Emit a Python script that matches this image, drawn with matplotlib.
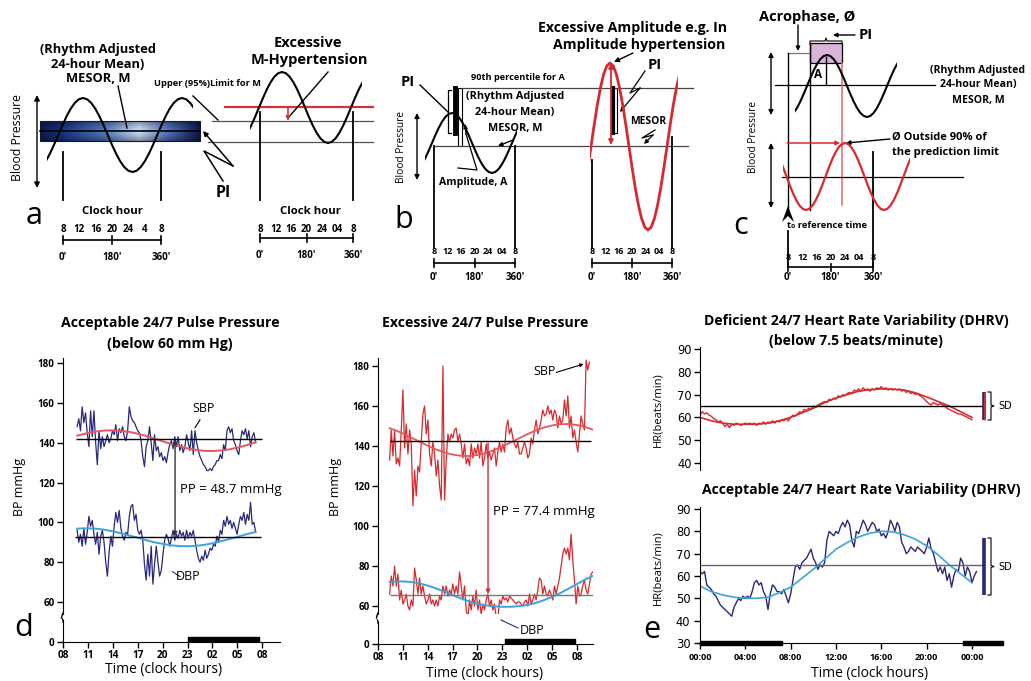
import numpy as np
import matplotlib
matplotlib.use("Agg")
import matplotlib.pyplot as plt
from matplotlib.patches import Rectangle, Polygon

W, H = 1031, 681
plt.rcParams['font.family'] = ['Open Sans', 'DejaVu Sans']

NAVY = '#2a2878'
RED = '#d42a30'
FITRED = '#e5575c'
FITBLUE = '#3ba3dd'

# ---------------- data ----------------
# idealised cosine used in the schematic panels (phase in degrees from the peak)
WAVE_PHASE = list(range(-360, 451, 15))
WAVE_LEVEL = [1, .966, .866, .707, .5, .259, 0, -.259, -.5, -.707, -.866, -.966,
              -1, -.966, -.866, -.707, -.5, -.259, 0, .259, .5, .707, .866, .966,
              1, .966, .866, .707, .5, .259, 0, -.259, -.5, -.707, -.866, -.966,
              -1, -.966, -.866, -.707, -.5, -.259, 0, .259, .5, .707, .866, .966,
              1, .966, .866, .707, .5, .259, 0]
CLOCK_LABELS_A = ["8", "12", "16", "20", "24", "4", "8"]
CLOCK_LABELS = ["8", "12", "16", "20", "24", "04", "8"]
CLOCK_DEG = [0, 60, 120, 180, 240, 300, 360]
DEG_LABELS = ["0'", "180'", "360'"]

# Panel d: acceptable pulse pressure (hours since midnight of day 1)
D_T0, D_T1 = 9.7, 31.2
D_SBP = [148,152,146,158,150,155,145,138,156,143,156,140,129,146,137,143,138,141,144,140,
         142,146,144,149,141,147,145,148,143,141,146,158,153,151,150,148,146,145,141,133,
         128,138,141,148,140,131,144,136,138,133,135,131,133,130,135,139,141,137,143,138,
         143,136,139,135,138,144,140,136,146,134,146,140,136,133,131,129,128,126,126,127,
         126,128,129,131,131,134,132,139,136,146,148,145,147,141,139,136,134,141,146,144,
         147,142,146,138,143,145,140]
D_DBP = [96,90,94,88,97,89,95,103,98,101,94,89,95,84,93,96,90,80,73,85,
         93,88,98,105,100,106,97,93,91,95,94,103,108,109,101,104,96,94,96,91,
         79,71,84,73,88,69,79,88,80,73,76,84,91,94,92,88,92,96,91,94,
         92,96,93,95,91,96,92,95,93,96,91,86,82,80,83,81,86,82,84,87,
         86,89,88,93,90,96,94,101,98,103,99,101,97,100,97,94,99,103,101,105,
         99,104,101,110,99,100,95]
D_FIT_H = [9.7, 10, 11, 12, 13, 14, 15, 16, 17, 18, 19, 20, 21, 22, 23, 24, 25, 26, 27, 28, 29, 30, 31, 31.2]
D_SBP_FIT = [143.5,143.8,144.9,145.6,146.1,146.2,145.9,145.4,144.5,143.4,142.1,140.7,139.4,
             138.2,137.1,136.4,135.9,135.8,136.1,136.6,137.5,138.6,139.9,140.2]
D_DBP_FIT = [96.8,96.9,97.0,96.8,96.3,95.5,94.5,93.4,92.3,91.1,90.0,89.2,88.5,88.1,88.0,
             88.2,88.7,89.5,90.5,91.6,92.7,93.9,95.0,95.1]
D_SBP_MESOR, D_DBP_MESOR = 142, 92.5
D_NIGHT = (23.0, 31.6)

# Panel d2: excessive pulse pressure
D2_SBP_T = (9.4, 33.5)
D2_DBP_T = (9.4, 33.9)
D2_SBP = [133,148,135,148,131,134,130,148,168,139,151,136,148,141,110,128,115,130,127,142,
          156,160,146,153,136,130,142,136,125,133,120,113,180,113,133,146,142,146,144,148,
          149,142,146,141,134,141,131,134,130,141,134,139,136,141,134,142,130,134,141,134,
          137,133,136,139,130,137,142,137,141,137,149,153,146,149,144,141,139,142,136,136,
          139,142,139,134,136,144,141,148,153,146,149,153,158,155,156,160,156,158,153,158,
          156,149,155,151,153,163,155,165,149,155,144,148,142,137,146,155,151,148,183,178,182]
D2_DBP = [66,75,70,80,70,76,63,68,61,63,66,60,58,63,60,79,73,66,74,66,
          70,65,61,63,66,61,63,60,63,60,65,63,70,66,70,65,68,66,71,66,
          70,66,77,70,63,70,58,54,63,58,65,60,68,58,63,56,61,58,63,66,
          60,63,58,61,54,53,63,61,65,63,64,62,65,64,63,62,61,62,62,61,
          60,62,63,60,66,61,63,66,63,68,74,73,66,70,66,65,68,66,63,70,
          66,70,74,80,86,89,86,89,83,96,83,73,61,70,65,66,70,73,68,66,
          71,76,77]
D2_FIT_H = [9.4, 10, 11, 12, 13, 14, 15, 16, 17, 18, 19, 20, 21, 22, 23, 24, 25, 26, 27, 28,
            29, 30, 31, 32, 33, 33.9]
D2_SBP_FIT = [148.9,148.0,146.3,144.2,142.2,140.1,138.3,136.8,135.7,135.1,135.0,135.5,136.5,
              138.0,139.7,141.8,143.8,145.9,147.7,149.2,150.3,150.9,151.0,150.5,149.5,148.2]
D2_DBP_FIT = [72,72.2,72.3,72,71.3,70.2,68.8,67.2,65.5,63.8,62.3,61.1,60.3,59.8,59.6,59.6,
              59.9,60.5,61.5,62.9,64.6,66.5,68.7,71,73.3,75]
D2_SBP_MESOR, D2_DBP_MESOR = 142.5, 65.5
D2_NIGHT = (23.3, 31.8)
BP_TICKS = [8, 11, 14, 17, 20, 23, 26, 29, 32]
BP_TICK_LABELS = ["08", "11", "14", "17", "20", "23", "02", "05", "08"]

# Panel e: heart rate
E_TOP = [61,62.5,61.5,62,61,60.5,59.5,59,58,58.5,57.5,56,57,55.5,57,56.5,57.5,57,56.5,57,
         57.5,57,57.5,57,57.5,56.5,57.5,57,58,57,58,57.5,58.5,57.5,58.5,58,59,58.5,59.5,58.5,
         60,61,60.5,61.5,62.5,62,63.5,63,64,63.5,65,64.5,65.5,66,66.5,67,66.5,68,67.5,68.5,
         68,69.5,69,70,69.5,70.5,71,70.5,72,71.5,72.5,71.5,73,72,72.5,71.5,72.5,72,73,72.5,
         73.5,72.5,73,72,72.5,72,72.5,72,72.5,71.5,72,71,71.5,70.5,71,70,70.5,69.5,69,68,
         67,66,65.5,66.5,66,65.5,66,65.5,65,64,63.5,63,62.5,62,61.5,61.5,61,60.5,60,59.5,59]
E_TOP_T = (0, 24)
E_FIT_H = list(range(0, 25))
E_TOP_FIT = [60,58.5,57.5,57,57,57,57.5,58.5,60,62,64,66.5,68.5,70,71.5,72.2,72.5,72.4,72,
             70.8,69,67,65,62.5,60]
E_BOT = [62,61,62,56,55,54,52,51,49,47,46,45,44,43,42,46,48,50,49,51,
         50,51,50,53,57,58,56,57,53,51,45,52,56,55,53,53,52,54,51,48,
         52,58,64,65,63,66,67,68,70,72,68,66,63,65,64,66,76,80,79,78,
         80,79,82,84,82,85,83,76,73,80,79,82,85,83,80,82,84,83,80,81,
         78,79,77,80,85,83,80,84,82,75,73,70,71,73,72,71,73,72,71,70,
         73,77,72,70,66,62,64,61,64,58,61,55,60,63,62,68,66,60,64,62,
         57,60,62]
E_BOT_T = (0, 24.4)
E_BOT_FIT = [55.5,53,51.5,50.5,50,50,50.5,52.5,55,59,63,67.5,72,75,77.5,79.2,80,79.8,78.5,
             76.5,73.5,69.5,65,61,57]
E_MESOR = 65
E_TOP_SD = (59, 71.2)
E_BOT_SD = (51.6, 77)
E_NIGHT = [(0, 7.2), (23.2, 3.54)]
E_TICKS = [0, 4, 8, 12, 16, 20, 24]
E_TICK_LABELS = ["00:00", "04:00", "08:00", "12:00", "16:00", "20:00", "00:00"]

# ---------------- figure ----------------
fig = plt.figure(figsize=(W / 100, H / 100), dpi=100)


def box(x0, y0, x1, y1):
    return [x0 / W, 1 - y1 / H, (x1 - x0) / W, (y1 - y0) / H]


ov = fig.add_axes([0, 0, 1, 1])
ov.set_xlim(0, W)
ov.set_ylim(H, 0)
ov.axis('off')


def T(x, y, s, fs=8, bold=False, ha='center', va='center', **kw):
    ov.text(x, y, s, fontsize=fs, fontweight='bold' if bold else 'normal',
            ha=ha, va=va, **kw)


def L(xs, ys, c='k', lw=1.0, **kw):
    ov.plot(xs, ys, color=c, lw=lw, **kw)


def A(x0, y0, x1, y1, c='k', lw=1.0, style='-|>', ms=7):
    ov.annotate('', xy=(x1, y1), xytext=(x0, y0),
                arrowprops=dict(arrowstyle=style, color=c, lw=lw, mutation_scale=ms,
                                shrinkA=0, shrinkB=0))


def wave(xpeak, period, ymid, amp, xs, xe, color='k', lw=1.5):
    plo = (xs - xpeak) / period * 360
    phi = (xe - xpeak) / period * 360
    ax = fig.add_axes(box(xs, ymid - 1.15 * amp, xe, ymid + 1.15 * amp))
    ax.set_xlim(plo, phi)
    ax.set_ylim(-1.15, 1.15)
    ax.axis('off')
    ax.plot(WAVE_PHASE, WAVE_LEVEL, color=color, lw=lw)


def scale_bar(x0, x360, ylab, ybar, ydeg, labels, fs=7, th=4):
    ppd = (x360 - x0) / 360.0
    for d, lab in zip(CLOCK_DEG, labels):
        T(x0 + d * ppd, ylab, lab, fs=fs, bold=True)
    L([x0, x360], [ybar, ybar], lw=1.2)
    for d, lab in zip((0, 180, 360), DEG_LABELS):
        L([x0 + d * ppd] * 2, [ybar - th, ybar + th], lw=1.2)
        T(x0 + d * ppd, ydeg, lab, fs=7, bold=True)


# ---------- panel a ----------
gx = np.linspace(0, 1, 200)
stops = [0, .15, .4, .62, .8, 1]
cols = np.array([[13, 28, 80], [25, 55, 135], [80, 120, 190], [205, 220, 242],
                 [80, 115, 185], [12, 25, 75]]) / 255.0
img = np.zeros((20, 200, 3))
vert = 1 - 0.35 * np.abs(np.linspace(-1, 1, 20)) ** 1.5
for k in range(3):
    img[:, :, k] = np.interp(gx, stops, cols[:, k])[None, :] * vert[:, None]
ov.imshow(img, extent=(40, 200, 141, 121), aspect='auto', zorder=1)
ov.set_xlim(0, W)
ov.set_ylim(H, 0)
ov.add_patch(Rectangle((40, 121), 160, 20, fill=False, ec='#101830', lw=0.8, zorder=2))
L([40, 200], [131, 131], lw=1.2, zorder=3)
T(18, 138, "Blood Pressure", fs=8.8, rotation=90)
A(37, 188, 37, 95, style='<|-|>', ms=8)
wave(83, 99, 135, 37, 47, 193)
L([63, 63], [152, 200], lw=1.3)
L([161, 161], [152, 200], lw=1.3)
T(112, 212, "Clock hour", fs=8.2, bold=True)
scale_bar(63, 161, 230, 240, 257, CLOCK_LABELS_A)
T(98, 49, "(Rhythm Adjusted", fs=9.3, bold=True)
T(98, 64, "24-hour Mean)", fs=9.3, bold=True)
T(98, 79, "MESOR, M", fs=9.3, bold=True)
L([118, 127], [86, 128])
T(208, 84, "Upper (95%)Limit for M", fs=6.7, bold=True)
L([193, 218], [96, 120])
L([212, 373], [121, 121], c='#555555', lw=0.9)
L([208, 373], [142, 142], c='#555555', lw=0.9)
# lightning-bolt leader from "PI" to the band
L([223, 204, 233], [181, 151, 166], lw=1.1)
A(233, 166, 203, 131, lw=1.1, ms=7)
T(223, 193, "PI", fs=11.5, bold=True)
T(34, 216, "a", fs=22)

T(308, 43, "Excessive", fs=10.5, bold=True)
T(309, 60, "M-Hypertension", fs=10.5, bold=True)
L([225, 373], [107, 107], c='#d8303a', lw=1.6)
A(288, 107, 288, 121, c='#d8303a', lw=1.2, ms=6)
L([328, 288], [72, 118])
wave(282, 92, 107.5, 35.5, 250, 362)
L([260, 260], [112, 200], lw=1.3)
L([353, 353], [112, 200], lw=1.3)
T(310, 212, "Clock hour", fs=8.2, bold=True)
scale_bar(260, 353, 230, 238, 255, CLOCK_LABELS)

# ---------- panel b ----------
T(408, 82, "PI", fs=10.5, bold=True)
L([420, 448], [85, 112])
L([451, 447.5, 447.5, 451], [90, 90, 133, 133], lw=0.9)
L([455, 455], [88, 133], lw=3.5)
ov.add_patch(Rectangle((457.5, 88), 4, 58, fill=False, ec='k', lw=0.8))
T(518, 77, "90th percentile for A", fs=6.6, bold=True)
L([462, 693], [88, 88], c='#444444', lw=0.9)
T(515, 97, "(Rhythm Adjusted", fs=7.8, bold=True)
T(515, 112, "24-hour Mean)", fs=7.8, bold=True)
T(515, 128, "MESOR, M", fs=7.8, bold=True)
L([435, 688], [146, 146], c='#444444', lw=0.9)
A(513, 140, 498, 146, ms=6)
T(402, 147, "Blood Pressure", fs=7.3, rotation=90)
A(417, 180, 417, 113, style='<|-|>', ms=7)
wave(452, 80, 143, 30, 425, 517)
L([434, 434], [146, 248], lw=1.3)
L([515, 515], [146, 248], lw=1.3)
T(473, 183, "Amplitude, A", fs=7.6, bold=True)
L([458, 477, 466], [168, 170, 134], lw=0.9)
A(466, 134, 465, 124, lw=0.9, ms=6)
scale_bar(434, 515, 252, 263, 277, CLOCK_LABELS, fs=6.5)
T(404, 220, "b", fs=22)

T(633, 28, "Excessive Amplitude e.g. In", fs=10.2, bold=True)
T(639, 45, "Amplitude hypertension", fs=10.2, bold=True)
A(633, 53, 614, 62)
wave(610, 76, 146.5, 83.5, 590, 678, color=RED, lw=2)
A(611, 145, 611, 63, c=RED, lw=1.3, style='<|-|>', ms=7)
L([613, 613], [88, 133], lw=3)
ov.add_patch(Rectangle((611.5, 88), 5, 45, fill=False, ec='k', lw=0.8))
T(655, 65, "PI", fs=10.5, bold=True)
L([645, 630, 640], [71, 93, 88], lw=0.9)
A(640, 88, 620, 112, lw=0.9, ms=6)
T(648, 122, "MESOR", fs=7.5, bold=True)
L([655, 642, 653], [130, 138, 135], lw=0.9)
A(653, 135, 644, 144, lw=0.9, ms=6)
L([592, 592], [160, 248], lw=1.3)
L([672, 672], [137, 248], lw=1.3)
scale_bar(592, 672, 252, 263, 277, CLOCK_LABELS, fs=6.5)

# ---------- panel c ----------
T(807, 17, "Acrophase, Ø", fs=10.5, bold=True)
T(866, 35, "PI", fs=10.5, bold=True)
A(855, 35, 833, 35, ms=6)
A(798, 25, 798, 51, ms=6)
L([788, 810], [53, 53], c='#777777', lw=0.9)
L([810, 810, 825, 826, 827, 842, 842], [44, 41, 41, 38, 41, 41, 44], lw=0.8)
ov.add_patch(Rectangle((810, 43), 32, 20, fc='#d9b3d9', ec='k', lw=0.9, zorder=1))
wave(827, 80, 86, 31, 795, 897)
L([826, 826], [57, 85], lw=1)
T(818, 75, "A", fs=8.5, bold=True)
L([775, 935], [85, 85], lw=0.9)
T(978, 70, "(Rhythm Adjusted", fs=7.6, bold=True)
T(978, 84, "24-hour Mean)", fs=7.6, bold=True)
T(978, 100, "MESOR, M", fs=7.6, bold=True)
T(753, 137, "Blood Pressure", fs=7.3, rotation=90)
A(771, 115, 771, 52, style='<|-|>', ms=7)
A(771, 208, 771, 143, style='<|-|>', ms=7)
L([788, 788], [53, 212], lw=1)
L([810, 810], [43, 210], lw=1)
L([842, 842], [63, 205], c='#e06a6a', lw=1.1)
A(787, 143, 840, 143, c=RED, lw=1.1, ms=6)
L([782, 963], [177, 177], lw=0.9)
wave(845, 78, 176.5, 33.5, 783, 910, color=RED, lw=1.6)
T(892, 137, "Ø Outside 90% of", fs=8, bold=True, ha='left')
T(892, 152, "the prediction limit", fs=8, bold=True, ha='left')
A(890, 139, 846, 143, ms=6)
L([873, 873], [152, 267], lw=1.3)
ov.add_patch(Polygon([(782, 222), (788, 206), (794, 222), (788, 216)], closed=True, fc='k'))
T(787, 226, "t₀ reference time", fs=6.8, bold=True, ha='left',
  family=['Open Sans', 'DejaVu Sans'])
L([788, 788], [231, 267], lw=1.3)
scale_bar(788, 873, 257, 267, 277, CLOCK_LABELS, fs=6.5, th=3.5)
T(741, 226, "c", fs=22)


# ---------- panel d helpers ----------
def bp_panel(mbox, bbox, xlim, ylim_main, ylim_bot, night):
    axm = fig.add_axes(box(*mbox))
    axm.patch.set_alpha(0)
    axm.set_xlim(*xlim)
    axm.set_ylim(*ylim_main)
    for s in ('top', 'right', 'bottom'):
        axm.spines[s].set_visible(False)
    axm.set_xticks([])
    axm.set_yticks([60, 80, 100, 120, 140, 160, 180])
    axm.set_yticklabels(["60", "80", "100", "120", "140", "160", "180"],
                        fontweight='bold', fontsize=7)
    axm.tick_params(axis='y', length=4, width=1, pad=2)
    axb = fig.add_axes(box(*bbox))
    axb.patch.set_alpha(0)
    axb.set_xlim(*xlim)
    axb.set_ylim(*ylim_bot)
    for s in ('top', 'right'):
        axb.spines[s].set_visible(False)
    axb.set_yticks([0])
    axb.set_yticklabels(["0"], fontweight='bold', fontsize=7)
    axb.set_xticks(BP_TICKS)
    axb.set_xticklabels(BP_TICK_LABELS, fontweight='bold', fontsize=7.2)
    axb.tick_params(length=4, width=1, pad=2)
    axb.broken_barh([(night[0], night[1] - night[0])], (0, 2.6), color='k')
    return axm, axb


# ---------- panel d ----------
axm, axb = bp_panel((63, 358, 280, 614), (63, 620, 280, 642),
                    (8, 34.14), (54.0, 182.5), (0, 11), D_NIGHT)
t = np.linspace(D_T0, D_T1, len(D_SBP))
axm.plot(t, D_SBP, color=NAVY, lw=0.9)
t = np.linspace(D_T0, D_T1, len(D_DBP))
axm.plot(t, D_DBP, color=NAVY, lw=0.9)
axm.plot(D_FIT_H, D_SBP_FIT, color=FITRED, lw=1.4)
axm.plot(D_FIT_H, D_DBP_FIT, color=FITBLUE, lw=1.4)
axm.hlines(D_SBP_MESOR, 9.6, 32.0, color='k', lw=1)
axm.hlines(D_DBP_MESOR, 9.5, 31.8, color='k', lw=1)
axm.annotate('', xy=(21.5, D_DBP_MESOR + 0.5), xytext=(21.5, D_SBP_MESOR - 0.5),
             arrowprops=dict(arrowstyle='<|-|>', color='#333333', lw=1, mutation_scale=6,
                             shrinkA=0, shrinkB=0))
axm.text(22.1, 116.5, "PP = 48.7 mmHg", fontsize=9.5, va='center', ha='left')
axm.text(24.9, 157, "SBP", fontsize=9, va='center', ha='center')
axm.plot([24.5, 23.9], [151.5, 147.5], color='k', lw=0.8)
axm.text(23.1, 72.6, "DBP", fontsize=9, va='center', ha='center')
axm.plot([21.2, 22.1], [75.2, 72.8], color=NAVY, lw=0.8)
L([63, 62, 61.5], [613, 615.5, 618], lw=1)
L([62.5, 63, 63], [619, 620.5, 622], lw=1)
T(170, 323, "Acceptable 24/7 Pulse Pressure", fs=10.2, bold=True)
T(170, 344, "(below 60 mm Hg)", fs=10.2, bold=True)
T(20, 487, "BP mmHg", fs=9, rotation=90)
T(164, 670, "Time (clock hours)", fs=10)
T(24, 628, "d", fs=22)

# ---------- panel d2 ----------
axm, axb = bp_panel((378, 358, 593, 614), (378, 622, 593, 644),
                    (8, 33.93), (56, 184), (0, 11), D2_NIGHT)
t = np.linspace(*D2_SBP_T, len(D2_SBP))
axm.plot(t, D2_SBP, color=RED, lw=0.9)
t = np.linspace(*D2_DBP_T, len(D2_DBP))
axm.plot(t, D2_DBP, color=RED, lw=0.9)
axm.plot(D2_FIT_H, D2_SBP_FIT, color=FITRED, lw=1.3)
axm.plot(D2_FIT_H, D2_DBP_FIT, color=FITBLUE, lw=1.4)
axm.hlines(D2_SBP_MESOR, 9.4, 33.7, color='k', lw=1)
axm.hlines(D2_DBP_MESOR, 9.4, 33.9, color='#777777', lw=1)
axm.annotate('', xy=(21.27, D2_DBP_MESOR + 0.5), xytext=(21.27, D2_SBP_MESOR - 1),
             arrowprops=dict(arrowstyle='-|>', color=RED, lw=1, mutation_scale=6,
                             shrinkA=0, shrinkB=0))
axm.text(21.9, 107.5, "PP = 77.4 mmHg", fontsize=9.5, va='center', ha='left')
axm.text(28.1, 177.3, "SBP", fontsize=9, va='center', ha='center')
axm.annotate('', xy=(32.8, 181), xytext=(29.5, 176.8),
             arrowprops=dict(arrowstyle='-|>', color='k', lw=0.8, mutation_scale=5,
                             shrinkA=0, shrinkB=0))
T(532, 630, "DBP", fs=9)
L([518, 501], [628, 620], c=NAVY, lw=0.8)
L([378, 377, 376.5], [613, 615.5, 618], lw=1)
L([377.5, 378, 378], [620, 621.5, 623], lw=1)
T(485, 323, "Excessive 24/7 Pulse Pressure", fs=10.2, bold=True)
T(336, 487, "BP mmHg", fs=9, rotation=90)
T(485, 673, "Time (clock hours)", fs=10)


# ---------- panel e ----------
def sd_mark(x, ytop, ybot):
    ym = (ytop + ybot) / 2
    L([x - 3, x, x, x + 3, x, x, x - 3], [ytop, ytop, ym - 1, ym, ym + 1, ybot, ybot], lw=0.8)
    T(x + 7, ym, "SD", fs=7, ha='left', family=['DejaVu Sans'])


ax1 = fig.add_axes(box(700, 347, 986, 470))
ax1.patch.set_alpha(0)
ax1.set_xlim(0, 25.24)
ax1.set_ylim(36.93, 90.88)
for s in ('top', 'right', 'bottom'):
    ax1.spines[s].set_visible(False)
ax1.set_xticks([])
ax1.set_yticks([40, 50, 60, 70, 80, 90])
ax1.set_yticklabels(["40", "50", "60", "70", "80", "90"], fontsize=8.3, family='DejaVu Sans')
ax1.tick_params(axis='y', length=4, width=1, pad=2)
ax1.plot(np.linspace(*E_TOP_T, len(E_TOP)), E_TOP, color=RED, lw=1.0)
ax1.plot(E_FIT_H, E_TOP_FIT, color=RED, lw=1.2)
ax1.hlines(E_MESOR, 0, 25.0, color='k', lw=1)
ax1.vlines(25.02, *E_TOP_SD, color=NAVY, lw=2.6)
ax1.vlines(25.02, *E_TOP_SD, color=RED, lw=0.8)
sd_mark(991, 392, 420)
T(856, 321, "Deficient 24/7 Heart Rate Variability (DHRV)", fs=10.1, bold=True)
T(856, 341, "(below 7.5 beats/minute)", fs=10.1, bold=True)
T(658, 410, "HR(beats/min)", fs=8, rotation=90)

ax2 = fig.add_axes(box(700, 507, 1003, 643))
ax2.patch.set_alpha(0)
ax2.set_xlim(0, 26.74)
ax2.set_ylim(30, 90.9)
for s in ('top', 'right'):
    ax2.spines[s].set_visible(False)
ax2.set_yticks([30, 40, 50, 60, 70, 80, 90])
ax2.set_yticklabels(["30", "40", "50", "60", "70", "80", "90"], fontsize=8.3, family='DejaVu Sans')
ax2.set_xticks(E_TICKS)
ax2.set_xticklabels(E_TICK_LABELS, fontsize=6.5, fontweight='bold')
ax2.tick_params(length=4, width=1, pad=3)
ax2.plot(np.linspace(*E_BOT_T, len(E_BOT)), E_BOT, color=NAVY, lw=1.0)
ax2.plot(E_FIT_H, E_BOT_FIT, color=FITBLUE, lw=1.2)
ax2.hlines(E_MESOR, 0, 25.0, color='#666666', lw=1)
ax2.vlines(25.1, *E_BOT_SD, color=NAVY, lw=2.6)
ax2.broken_barh(E_NIGHT, (29.0, 1.8), color='k', clip_on=False)
sd_mark(991, 538, 595)
T(861, 490, "Acceptable 24/7 Heart Rate Variability (DHRV)", fs=10.1, bold=True)
T(658, 568, "HR(beats/min)", fs=8, rotation=90)
T(870, 673, "Time (clock hours)", fs=10)
T(652, 630, "e", fs=22)

fig.savefig("out.png", dpi=100)
